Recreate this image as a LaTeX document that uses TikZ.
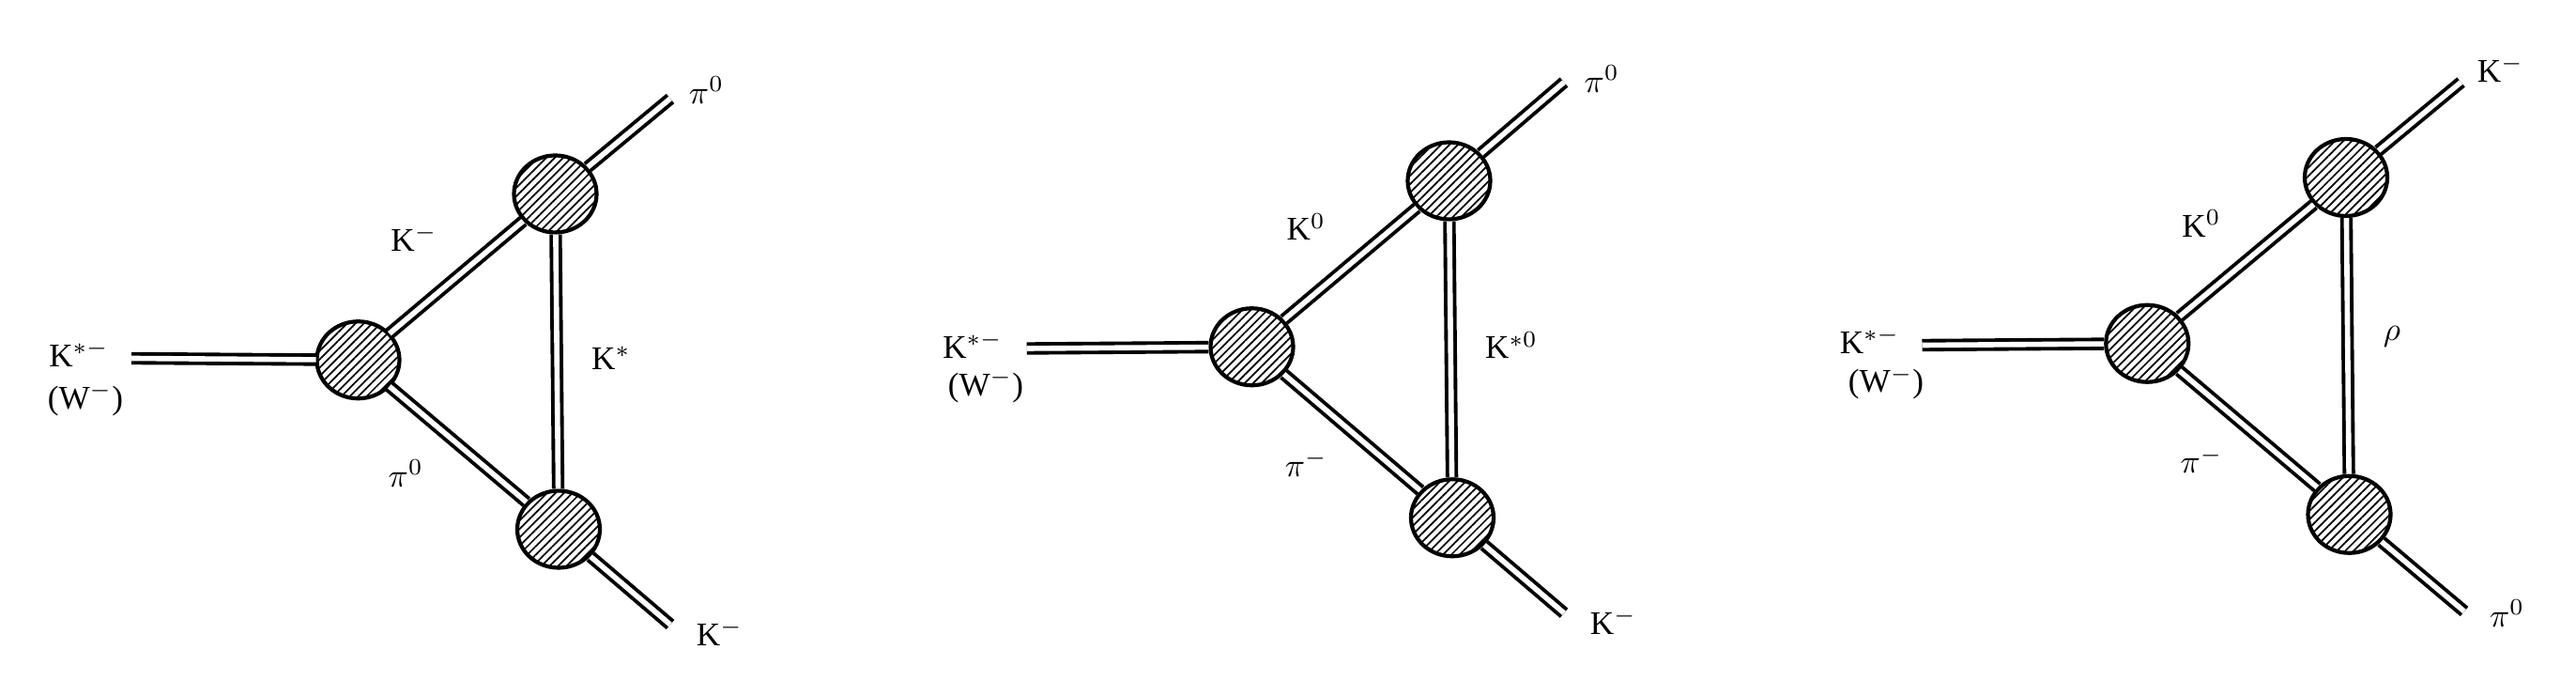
\documentclass[tikz,border=0pt]{standalone}
\usepackage{fontspec}
\setmainfont{Liberation Serif}
\usetikzlibrary{shapes.geometric,patterns.meta}
\begin{document}
\begin{tikzpicture}[x=0.0175cm,y=-0.0175cm,
  blob/.style={ellipse,draw,line width=1.2pt,minimum width=0.88cm,minimum height=0.82cm,inner sep=0pt,
    pattern={Lines[angle=45,distance=1.8pt,line width=0.5pt]}},
  prop/.style={draw,double,line width=1.1pt,double distance=1.6pt},
  lab/.style={font=\normalsize,inner sep=1pt}]
\useasboundingbox (0,0) rectangle (1568,423.4);
% diagram 1
\node[blob] (a1) at (218,219) {};
\node[blob] (b1) at (338,118) {};
\node[blob] (c1) at (340,322) {};
\coordinate (i1) at (80,218);
\coordinate (t1) at (408,60);
\coordinate (u1) at (408,380);
\draw[prop] (i1) -- (a1); \draw[prop] (a1) -- (b1); \draw[prop] (a1) -- (c1);
\draw[prop] (b1) -- (c1); \draw[prop] (b1) -- (t1); \draw[prop] (c1) -- (u1);
\node[lab] (l1a) at (48,215) {K$^{*-}$};
\node[lab] (l1b) at (52,243) {(W$^{-}$)};
\node[lab] (l1c) at (252,145) {K$^{-}$};
\node[lab] (l1d) at (372,218) {K$^{*}$};
\node[lab] (l1e) at (247,288) {$\pi^{0}$};
\node[lab] (l1f) at (430,55) {$\pi^{0}$};
\node[lab] (l1g) at (438,385) {K$^{-}$};
% diagram 2
\node[blob] (a2) at (762,211) {};
\node[blob] (b2) at (882,110) {};
\node[blob] (c2) at (884,315) {};
\coordinate (i2) at (625,212);
\coordinate (t2) at (952,50);
\coordinate (u2) at (952,373);
\draw[prop] (i2) -- (a2); \draw[prop] (a2) -- (b2); \draw[prop] (a2) -- (c2);
\draw[prop] (b2) -- (c2); \draw[prop] (b2) -- (t2); \draw[prop] (c2) -- (u2);
\node[lab] (l2a) at (592,210) {K$^{*-}$};
\node[lab] (l2b) at (600,235) {(W$^{-}$)};
\node[lab] (l2c) at (795,138) {K$^{0}$};
\node[lab] (l2d) at (920,210) {K$^{*0}$};
\node[lab] (l2e) at (795,282) {$\pi^{-}$};
\node[lab] (l2f) at (975,48) {$\pi^{0}$};
\node[lab] (l2g) at (982,378) {K$^{-}$};
% diagram 3
\node[blob] (a3) at (1307,209) {};
\node[blob] (b3) at (1428,108) {};
\node[blob] (c3) at (1430,313) {};
\coordinate (i3) at (1170,210);
\coordinate (t3) at (1498,50);
\coordinate (u3) at (1500,372);
\draw[prop] (i3) -- (a3); \draw[prop] (a3) -- (b3); \draw[prop] (a3) -- (c3);
\draw[prop] (b3) -- (c3); \draw[prop] (b3) -- (t3); \draw[prop] (c3) -- (u3);
\node[lab] (l3a) at (1138,207) {K$^{*-}$};
\node[lab] (l3b) at (1148,233) {(W$^{-}$)};
\node[lab] (l3c) at (1340,136) {K$^{0}$};
\node[lab] (l3d) at (1456,205) {$\rho$};
\node[lab] (l3e) at (1340,280) {$\pi^{-}$};
\node[lab] (l3f) at (1522,42) {K$^{-}$};
\node[lab] (l3g) at (1526,373) {$\pi^{0}$};
\end{tikzpicture}
\end{document}
